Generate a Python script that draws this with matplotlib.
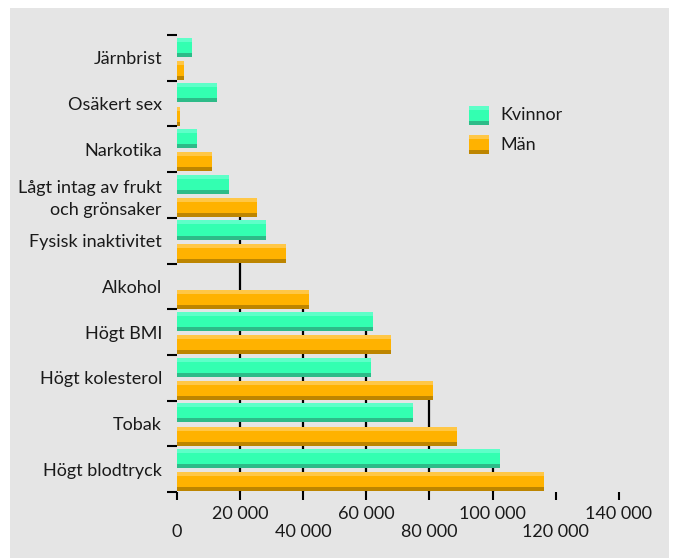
import matplotlib
matplotlib.use("Agg")
import matplotlib.pyplot as plt
from matplotlib.patches import Rectangle

plt.rcParams['font.family'] = ['Lato', 'DejaVu Sans']

categories = ["Järnbrist", "Osäkert sex", "Narkotika", "Lågt intag av frukt\noch grönsaker",
              "Fysisk inaktivitet", "Alkohol", "Högt BMI", "Högt kolesterol", "Tobak", "Högt blodtryck"]
kvinnor = [4800, 12700, 6300, 16500, 28200, 0, 62100, 61500, 74800, 102400]
man = [2200, 1000, 11100, 25400, 34600, 41800, 67800, 81100, 88800, 116300]
xticks_lower = [0, 40000, 80000, 120000]
xticks_upper = [20000, 60000, 100000, 140000]
xtick_labels_lower = ["0", "40 000", "80 000", "120 000"]
xtick_labels_upper = ["20 000", "60 000", "100 000", "140 000"]
series_names = ["Kvinnor", "Män"]

W, H = 673, 558
fig = plt.figure(figsize=(W / 100, H / 100), dpi=100)
fig.patch.set_facecolor("white")
fig.add_artist(Rectangle((10 / W, 0), 659 / W, 550 / H, transform=fig.transFigure,
                         facecolor="#e5e5e5", edgecolor="none", zorder=0))

ax = fig.add_axes([177 / W, 66 / H, 473.3 / W, 457 / H])
ax.set_facecolor("none")
for s in ax.spines.values():
    s.set_visible(False)

GREEN = ("#5effc8", "#33ffb1", "#2dbb88")
ORANGE = ("#ffc746", "#ffb200", "#bd8500")
bh = 0.416
n = len(categories)


def bar3(y0, val, cols):
    if val <= 0:
        return
    ax.barh(y0, val, height=bh, align="edge", color=cols[1], zorder=3, linewidth=0)
    ax.barh(y0 + bh * 15 / 19, val, height=bh * 4 / 19, align="edge", color=cols[0], zorder=4, linewidth=0)
    ax.barh(y0, val, height=bh * 4 / 19, align="edge", color=cols[2], zorder=4, linewidth=0)


bars = []
for i in range(n):
    g = n - 1 - i
    yk = g + 0.525
    ym = g + 0.015
    bar3(yk, kvinnor[i], GREEN)
    bar3(ym, man[i], ORANGE)
    bars.append((yk, kvinnor[i]))
    bars.append((ym, man[i]))

# partial vertical lines: from axis up to the highest bar crossing the value
for xv in sorted(xticks_lower + xticks_upper):
    if xv == 0:
        continue
    crossing = [y for y, v in bars if v > xv]
    if crossing:
        ax.vlines(xv, 0, max(crossing) + bh / 2, color="black", linewidth=1.6, zorder=2)

ax.set_xlim(0, 150000)
ax.set_ylim(0, n)

ax.set_yticks(range(n + 1))
ax.set_yticklabels([])
ax.set_yticks([g + 0.5 for g in range(n)], minor=True)
ax.set_yticklabels(categories[::-1], minor=True, fontsize=13, color="#1a1a1a", linespacing=1.45)
ax.tick_params(axis="y", which="major", length=7.2, width=1.5, color="black")
ax.tick_params(axis="y", which="minor", length=0, pad=10.8)

ax.set_xticks(xticks_lower)
ax.set_xticklabels(xtick_labels_lower, fontsize=13, color="#1a1a1a")
ax.set_xticks(xticks_upper, minor=True)
ax.set_xticklabels(xtick_labels_upper, minor=True, fontsize=13, color="#1a1a1a")
ax.tick_params(axis="x", which="major", length=5.8, width=1.5, pad=17)
ax.tick_params(axis="x", which="minor", length=5.8, width=1.5, pad=4)

# legend
def legend_patch(x, ytop, cols):
    w, h = 20, 19
    y0 = H - ytop - h
    fig.add_artist(Rectangle((x / W, y0 / H), w / W, h / H, transform=fig.transFigure,
                             facecolor=cols[1], edgecolor="none", zorder=5))
    fig.add_artist(Rectangle((x / W, (y0 + 15) / H), w / W, 4 / H, transform=fig.transFigure,
                             facecolor=cols[0], edgecolor="none", zorder=6))
    fig.add_artist(Rectangle((x / W, y0 / H), w / W, 4 / H, transform=fig.transFigure,
                             facecolor=cols[2], edgecolor="none", zorder=6))

legend_patch(469, 106, GREEN)
legend_patch(469, 135, ORANGE)
fig.text(500 / W, 1 - 115 / H, series_names[0], fontsize=13, color="#1a1a1a", va="center", ha="left")
fig.text(500 / W, 1 - 145 / H, series_names[1], fontsize=13, color="#1a1a1a", va="center", ha="left")

fig.savefig("out.png", dpi=100)
